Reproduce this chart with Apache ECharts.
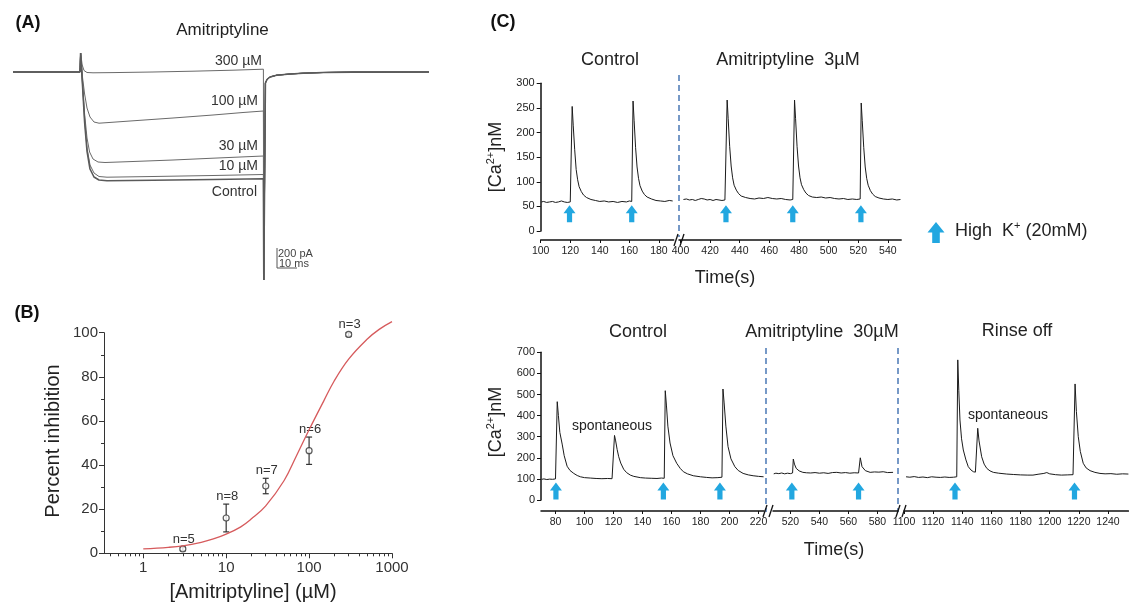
<!DOCTYPE html>
<html><head><meta charset="utf-8">
<script src="https://cdn.jsdelivr.net/npm/echarts@6/dist/echarts.min.js"></script>
<style>html,body{margin:0;padding:0;background:#fff}#chart{width:1129px;height:605px}</style>
</head><body><div id="chart"></div>
<script>
// ---------- (A) whole-cell current traces, [time ms, current pA] ----------
const trace300 = [[0,0],[33.5,0],[33.8,190],[34.6,70],[35.5,15],[37,-5],[40,-8],[50,-6],[70,0],[90,8],[110,18],[125.2,28]];
const trace100 = [[0,0],[33.5,0],[33.8,190],[34.8,-60],[35.8,-220],[37,-360],[38.5,-450],[40.5,-500],[43,-512],[48,-505],[60,-488],[80,-460],[100,-430],[115,-405],[125.2,-390]];
const trace30 = [[0,0],[33.5,0],[33.8,190],[34.8,-120],[35.8,-420],[37,-660],[38.3,-800],[40,-870],[42.5,-900],[46,-905],[60,-895],[80,-880],[100,-862],[125.2,-840]];
const trace10 = [[0,0],[33.5,0],[33.8,190],[34.8,-140],[35.8,-480],[37,-760],[38.5,-930],[40.5,-1010],[43,-1045],[47,-1052],[70,-1045],[100,-1035],[125.2,-1025]];
const traceControl = [[0,0],[33.5,0],[33.8,190],[34.8,-150],[35.8,-500],[37,-790],[38.5,-970],[40.5,-1050],[43,-1080],[47,-1087],[70,-1082],[100,-1075],[125.2,-1068]];
const traceTail = [[125.4,-2080],[125.9,-2080],[126.2,-110],[127,-75],[128.5,-50],[131.8,-32],[138.5,-20],[145,-12],[155,-5],[170,-1],[208,0]];
const traceNames = ['300 µM','100 µM','30 µM','10 µM','Control'];
const scaleBar = [[132,-1760],[132,-1960],[142,-1960]]; // 200 pA / 10 ms

// ---------- (B) concentration–response ----------
const concB = [3, 10, 30, 100, 300];
const inhibMean = [2, 16, 30.5, 46.5, 99.2];
const inhibErr = [0.8, 6.3, 3.5, 6.2, 0.8];
const nLabels = ['n=5','n=8','n=7','n=6','n=3'];
const fitCurve = [[1,2.0],[2,2.7],[3,3.4],[5,5.0],[7,6.5],[10,8.7],[15,12],[20,15.5],[30,21.5],[50,33],[70,44],[100,56],[150,69],[200,78],[300,88],[500,97],[700,101.5],[1000,105]];
const xMajorB = [1, 10, 100, 1000];
const xMinorB = [0.4,0.5,0.6,0.7,0.8,0.9,2,3,4,5,6,7,8,9,20,30,40,50,60,70,80,90,200,300,400,500,600,700,800,900];

// ---------- (C) Ca2+ imaging, [time s, nM] ----------
const topSeg1 = [[100.5,59],[102,60],[104,58],[106,59],[108,60],[110,58],[112,59],[114,61],[116,59],[118,58],[120,59],[120.4,62],[121.3,253],[122,215],[123,165],[124,125],[125,104],[126,90],[127.5,80],[129,73],[131,68],[134,64],[137,62],[140,60],[143,61],[146,59],[149,60],[152,58],[155,60],[158,59],[160,61],[161.6,60],[162.5,264],[163.2,225],[164.2,170],[165.2,130],[166.2,107],[167.2,92],[168.7,81],[170.2,74],[172,69],[175,65],[178,62],[181,61],[184,60],[187,62],[189.3,61]];
const topSeg2 = [[402,64],[404,65],[406,63],[408,64],[410,62],[412,64],[414,66],[416,65],[418,63],[420,64],[422,62],[424,64],[426,63],[428,62],[430,63],[430.5,66],[431.5,266],[432.2,228],[433.2,172],[434.2,132],[435.2,108],[436.2,93],[437.7,83],[439.2,76],[441,71],[444,68],[447,66],[450,65],[453,67],[456,66],[459,68],[462,66],[465,65],[468,66],[471,64],[474,63],[475.8,64],[477,266],[477.7,228],[478.7,172],[479.7,132],[480.7,108],[481.7,94],[483.2,84],[484.7,77],[486.5,72],[489,69],[492,68],[495,69],[498,67],[501,68],[504,66],[507,65],[510,66],[513,64],[516,65],[519,64],[521.3,65],[522,260],[522.7,224],[523.7,170],[524.7,130],[525.7,107],[526.7,93],[528.2,82],[529.7,75],[531.5,70],[534,67],[537,65],[540,64],[543,65],[546,63],[548.5,64]];
const botSeg1 = [[70.5,98],[72,100],[74,97],[76,99],[78,98],[80,100],[80.5,104],[81.2,466],[82,400],[83,320],[84.6,265],[86,210],[88,160],[90,140],[92.6,126],[95,116],[97.2,110],[100,106],[104,104],[108,102],[112,101],[116,102],[119,101],[120.2,103],[120.7,306],[121.5,280],[122.5,240],[123.6,205],[125,175],[127,146],[129,130],[131.6,118],[134,112],[138.5,106],[142,104],[146,103],[150,102],[153,104],[155,103],[155.7,518],[156.5,450],[157.5,350],[159,270],[161,210],[163.6,174],[166,150],[168.2,134],[171,124],[175,115],[180,110],[184.3,107],[188,105],[192,106],[194.8,108],[195.5,526],[196.3,460],[197.5,350],[199,253],[201,195],[203.7,158],[206,140],[209.4,126],[213,119],[216.3,115],[220,112],[223.5,110]];
const botSeg2 = [[508.5,124],[510,127],[512,125],[514,128],[516,124],[518,127],[520,125],[521.5,128],[522,194],[522.8,170],[524,150],[526,138],[528.6,131],[531,129],[534,128],[537,130],[540,127],[543,129],[546,126],[549,130],[552,131],[555,128],[558,130],[561,127],[564,129],[567,128],[567.6,130],[568.2,200],[569.4,158],[571.7,139],[575,131],[578,133],[581,132],[584,134],[587,130],[590.8,131]];
const botSeg3 = [[1101.4,110],[1104,108],[1107,111],[1110,107],[1113,109],[1116,106],[1119,110],[1122,108],[1125,107],[1128,109],[1131,107],[1134,108],[1136.2,110],[1136.9,664],[1137.6,520],[1138.4,379],[1139.5,290],[1140.7,237],[1142.5,190],[1144.1,158],[1146,142],[1147.6,134],[1149,132],[1149.9,135],[1150.6,340],[1151.5,280],[1153.3,205],[1155,170],[1156.8,150],[1159,138],[1161.3,131],[1165,127],[1170.5,123],[1175,121],[1180,119],[1185,118],[1188.5,118],[1192,122],[1196,126],[1198,130],[1200,124],[1204,120],[1208,118],[1212,119],[1216,120],[1216.7,122],[1217.4,550],[1218.3,420],[1219.6,300],[1221,230],[1223,174],[1225,152],[1227.7,139],[1231,131],[1234.5,126],[1238,124],[1242,125],[1246,122],[1250,124],[1254,123]];
// High K+ application times, [time s, arrow level nM]
const topArrows1 = [[119.5,35],[161.6,35]];
const topArrows2 = [[430.7,35],[475.8,35],[521.8,35]];
const botArrows1 = [[80.3,43],[154.4,43],[193.4,43]];
const botArrows2 = [[521,43],[567,43]];
const botArrows3 = [[1135,43],[1217,43]];
const topTicks1 = [100,120,140,160,180];
const topTicks2 = [400,420,440,460,480,500,520,540];
const botTicks1 = [80,100,120,140,160,180,200,220];
const botTicks2 = [520,540,560,580];
const botTicks3 = [1100,1120,1140,1160,1180,1200,1220,1240];

const FONT = 'Liberation Sans, Arial, Helvetica, sans-serif';
const ARROW_BLUE = '#22a7e0';
const chart = echarts.init(document.getElementById('chart'), null, {renderer: 'canvas'});

// layout of the broken time axes (px)
const topY = 83.3, topH = 147.7, botY = 352.3, botH = 147.7;
const G = {
  a:  {left: 13, top: 42, width: 416, height: 240},
  b:  {left: 104, top: 332.7, width: 288, height: 220.6},
  t1: {left: 540.7, top: topY, width: 133, height: topH},
  t2: {left: 679, top: topY, width: 222.2, height: topH},
  b1: {left: 541, top: botY, width: 223, height: botH},
  b2: {left: 773, top: botY, width: 124.7, height: botH},
  b3: {left: 904, top: botY, width: 224.4, height: botH}
};
const grids = ['a','b','t1','t2','b1','b2','b3'].map(k => Object.assign({containLabel: false, outerBoundsMode: 'none'}, G[k]));

function timeAxis(gi, min, max, ticks, off) {
  return {type: 'value', gridIndex: gi, min, max, position: 'bottom', offset: off,
    axisLine: {onZero: false, lineStyle: {color: '#111', width: 1.5}},
    axisTick: {customValues: ticks, length: 3, lineStyle: {color: '#111', width: 1}},
    axisLabel: {customValues: ticks, fontSize: 10.5, color: '#222', margin: 6, fontFamily: FONT, formatter: v => String(v)},
    splitLine: {show: false}};
}
function caAxis(gi, max, step, visible) {
  return {type: 'value', gridIndex: gi, min: 0, max, interval: step, show: visible,
    axisLine: {show: true, lineStyle: {color: '#111', width: 1.5}},
    axisTick: {show: true, length: 4, lineStyle: {color: '#111'}},
    axisLabel: {fontSize: 11, color: '#222', margin: 6, fontFamily: FONT},
    splitLine: {show: false}};
}
function hidden(gi, min, max) {
  return {type: 'value', gridIndex: gi, min, max, show: false, splitLine: {show: false}};
}

function arrowItem(params, api) {
  const p = api.coord([api.value(0), api.value(1)]);
  return {type: 'polygon', shape: {points: [[p[0], p[1]-8.5],[p[0]+6, p[1]-0.5],[p[0]+2.6, p[1]-0.5],[p[0]+2.6, p[1]+8.5],[p[0]-2.6, p[1]+8.5],[p[0]-2.6, p[1]-0.5],[p[0]-6, p[1]-0.5]]},
    style: {fill: ARROW_BLUE}};
}
function caLine(xi, yi, data) {
  return {type: 'line', xAxisIndex: xi, yAxisIndex: yi, data, showSymbol: false, symbol: 'none',
    lineStyle: {color: '#1b1b1b', width: 1}, silent: true};
}
function arrows(xi, yi, data) {
  return {type: 'custom', xAxisIndex: xi, yAxisIndex: yi, data, renderItem: arrowItem, silent: true};
}

const aTraces = [trace300, trace100, trace30, trace10, traceControl];
const aSeries = aTraces.map((tr, i) => ({
  type: 'line', name: traceNames[i], xAxisIndex: 0, yAxisIndex: 0,
  data: tr.concat(traceTail), showSymbol: false, symbol: 'none', silent: true,
  lineStyle: {color: i === 4 ? '#5a5a5a' : '#6a6a6a', width: i === 4 ? 1.6 : 1}
}));

const sup = {fontSize: 11, padding: [0,0,10,0], fontFamily: FONT, fill: '#222'};
function txt(x, y, text, size, opts) {
  return Object.assign({type: 'text', x, y, silent: true,
    style: Object.assign({text, fontSize: size, fontFamily: FONT, fill: '#222', align: 'center', verticalAlign: 'middle'}, opts || {})});
}
function dashed(x, y1, y2) {
  return {type: 'line', silent: true, shape: {x1: x, y1, x2: x, y2}, style: {stroke: '#4a78b5', lineWidth: 1.5, lineDash: [6, 4]}};
}
function breakMarks(x, y) {
  return [0, 6].map(d => ({type: 'line', silent: true, shape: {x1: x + d - 2, y1: y + 6, x2: x + d + 2, y2: y - 6}, style: {stroke: '#111', lineWidth: 1.3}}));
}
const caLabelRich = {n: {fontSize: 18, fontFamily: FONT, fill: '#222'}, s: sup};

const option = {
  animation: false,
  backgroundColor: '#fff',
  grid: grids,
  xAxis: [
    hidden(0, 0, 208),
    {type: 'log', logBase: 10, gridIndex: 1, min: 0.336, max: 1000, position: 'bottom',
      axisLine: {onZero: false, lineStyle: {color: '#333', width: 1}},
      axisTick: {customValues: xMajorB, length: 5, lineStyle: {color: '#333'}},
      axisLabel: {customValues: xMajorB, fontSize: 15, color: '#333', margin: 7, fontFamily: FONT, formatter: v => String(Math.round(v))},
      splitLine: {show: false}, minorTick: {show: false}},
    {type: 'log', logBase: 10, gridIndex: 1, min: 0.336, max: 1000, position: 'bottom',
      axisLine: {show: false, onZero: false}, axisLabel: {show: false},
      axisTick: {customValues: xMinorB, length: 3, lineStyle: {color: '#333'}},
      splitLine: {show: false}},
    timeAxis(2, 100, 190, topTicks1, 9),
    timeAxis(3, 399, 549, topTicks2, 9),
    timeAxis(4, 70, 223.8, botTicks1, 11),
    timeAxis(5, 508, 594, botTicks2, 11),
    timeAxis(6, 1100, 1254, botTicks3, 11)
  ],
  yAxis: [
    hidden(0, -2100, 300),
    {type: 'value', gridIndex: 1, min: 0, max: 100, interval: 20,
      axisLine: {show: true, lineStyle: {color: '#333', width: 1}},
      axisTick: {show: true, length: 5, lineStyle: {color: '#333'}},
      minorTick: {show: true, splitNumber: 2, length: 3, lineStyle: {color: '#333'}},
      axisLabel: {fontSize: 15, color: '#333', margin: 6, fontFamily: FONT},
      splitLine: {show: false}},
    caAxis(2, 300, 50, true),
    caAxis(3, 300, 50, false),
    caAxis(4, 700, 100, true),
    caAxis(5, 700, 100, false),
    caAxis(6, 700, 100, false)
  ],
  series: [
    ...aSeries,
    {type: 'line', xAxisIndex: 0, yAxisIndex: 0, data: scaleBar, showSymbol: false, symbol: 'none', silent: true,
      lineStyle: {color: '#555', width: 1}},
    // (B) fitted curve
    {type: 'line', xAxisIndex: 1, yAxisIndex: 1, data: fitCurve, smooth: 0.4, showSymbol: false, symbol: 'none',
      clip: false, silent: true, lineStyle: {color: '#d65a5c', width: 1.3}},
    // (B) error bars and n labels
    {type: 'custom', xAxisIndex: 1, yAxisIndex: 1, silent: true, clip: false,
      data: concB.map((c, i) => [c, inhibMean[i], inhibErr[i]]),
      renderItem: (params, api) => {
        const x = api.value(0), m = api.value(1), e = api.value(2);
        const hi = api.coord([x, m + e]), lo = api.coord([x, m - e]);
        const st = {stroke: '#333', lineWidth: 1.2};
        return {type: 'group', children: [
          {type: 'line', shape: {x1: hi[0], y1: hi[1], x2: lo[0], y2: lo[1]}, style: st},
          {type: 'line', shape: {x1: hi[0]-3, y1: hi[1], x2: hi[0]+3, y2: hi[1]}, style: st},
          {type: 'line', shape: {x1: lo[0]-3, y1: lo[1], x2: lo[0]+3, y2: lo[1]}, style: st},
          {type: 'text', x: hi[0] + 1, y: hi[1] - 8, style: {text: nLabels[params.dataIndex], fontSize: 13, fontFamily: FONT, fill: '#333', align: 'center', verticalAlign: 'middle'}}
        ]};
      }},
    {type: 'scatter', xAxisIndex: 1, yAxisIndex: 1, silent: true, clip: false,
      data: concB.map((c, i) => [c, inhibMean[i]]), symbol: 'circle', symbolSize: 6,
      itemStyle: {color: '#fff', borderColor: '#333', borderWidth: 1.2}},
    // (C) Ca2+ traces
    caLine(3, 2, topSeg1), caLine(4, 3, topSeg2),
    caLine(5, 4, botSeg1), caLine(6, 5, botSeg2), caLine(7, 6, botSeg3),
    arrows(3, 2, topArrows1), arrows(4, 3, topArrows2),
    arrows(5, 4, botArrows1), arrows(6, 5, botArrows2), arrows(7, 6, botArrows3)
  ],
  graphic: [
    txt(28, 23, '(A)', 18, {fontWeight: 'bold', fill: '#111'}),
    txt(27, 313, '(B)', 18, {fontWeight: 'bold', fill: '#111'}),
    txt(503, 22, '(C)', 18, {fontWeight: 'bold', fill: '#111'}),
    // (A)
    txt(222.5, 30, 'Amitriptyline', 17),
    txt(262, 61, '300 µM', 14, {align: 'right', fill: '#333'}),
    txt(258, 101, '100 µM', 14, {align: 'right', fill: '#333'}),
    txt(258, 146, '30 µM', 14, {align: 'right', fill: '#333'}),
    txt(258, 166, '10 µM', 14, {align: 'right', fill: '#333'}),
    txt(257, 192, 'Control', 14, {align: 'right', fill: '#333'}),
    txt(278, 254, '200 pA', 11, {align: 'left', fill: '#444'}),
    txt(279, 264, '10 ms', 11, {align: 'left', fill: '#444'}),
    // (B)
    Object.assign(txt(53, 441, 'Percent inhibition', 20), {rotation: Math.PI / 2}),
    txt(253, 592, '[Amitriptyline] (µM)', 20),
    // (C) upper
    txt(610, 60, 'Control', 18),
    txt(788, 60, 'Amitriptyline  3µM', 18),
    {type: 'text', x: 496, y: 157, rotation: Math.PI / 2, silent: true,
      style: {text: '{n|[Ca}{s|2+}{n|]nM}', rich: caLabelRich, align: 'center', verticalAlign: 'middle'}},
    txt(725, 278, 'Time(s)', 18),
    dashed(679, 75, 237),
    ...breakMarks(676, 240),
    // legend
    {type: 'polygon', silent: true, shape: {points: [[936, 222],[944.5, 232.5],[939.8, 232.5],[939.8, 243],[932.2, 243],[932.2, 232.5],[927.5, 232.5]]}, style: {fill: ARROW_BLUE}},
    {type: 'text', x: 955, y: 231, silent: true,
      style: {text: '{n|High  K}{s|+}{n| (20mM)}', align: 'left', verticalAlign: 'middle',
        rich: {n: {fontSize: 18, fontFamily: FONT, fill: '#222'}, s: {fontSize: 11, padding: [0,0,10,0], fontFamily: FONT, fill: '#222'}}}},
    // (C) lower
    txt(638, 332, 'Control', 18),
    txt(822, 332, 'Amitriptyline  30µM', 18),
    txt(1017, 331, 'Rinse off', 18),
    txt(612, 426, 'spontaneous', 14),
    txt(1008, 415, 'spontaneous', 14),
    {type: 'text', x: 496, y: 422, rotation: Math.PI / 2, silent: true,
      style: {text: '{n|[Ca}{s|2+}{n|]nM}', rich: caLabelRich, align: 'center', verticalAlign: 'middle'}},
    txt(834, 550, 'Time(s)', 18),
    dashed(766, 348, 512),
    dashed(898, 348, 512),
    ...breakMarks(765, 511),
    ...breakMarks(898, 511)
  ]
};
chart.setOption(option);
</script></body></html>
